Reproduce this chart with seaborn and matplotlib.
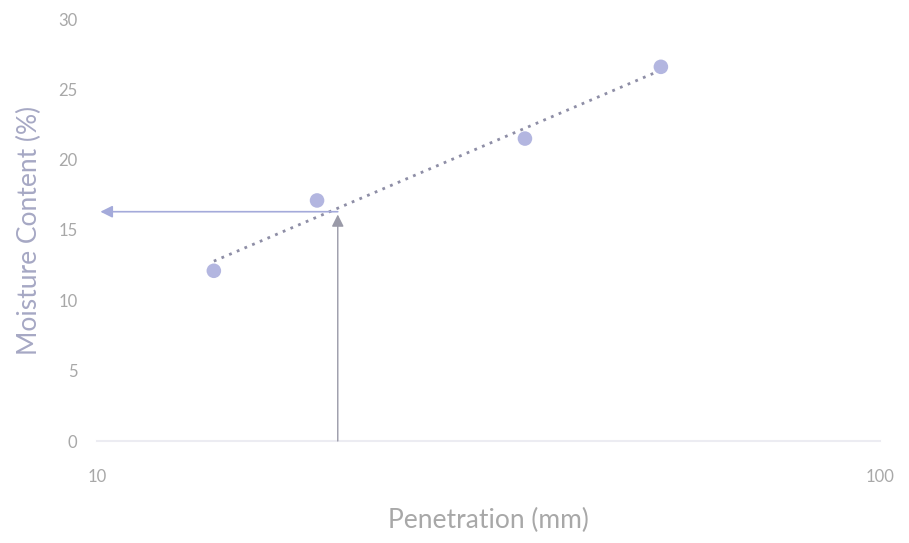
import numpy as np
import pandas as pd
import matplotlib
matplotlib.use("Agg")
import matplotlib.pyplot as plt
import seaborn as sns

# Cone penetration test: moisture content vs penetration
penetration = [14.1, 19.1, 35.2, 52.5]
moisture = [12.1, 17.1, 21.5, 26.6]
target_pen = 20.3
liquid_limit = 16.3

x_ticks = [10, 100]
y_ticks = [0, 5, 10, 15, 20, 25, 30]

df = pd.DataFrame({"Penetration (mm)": penetration, "Moisture Content (%)": moisture})

sns.set_theme(style="white")
plt.rcParams["font.family"] = ["Lato", "DejaVu Sans"]

text_col = "#a8a8a8"
point_col = "#b3b6e0"
trend_col = "#8e8ea6"
arrow_col = "#a4aada"

fig, ax = plt.subplots(figsize=(9.09, 5.43), dpi=100)
fig.subplots_adjust(left=97 / 909, right=880 / 909, bottom=1 - 441 / 543, top=1 - 19 / 543)

sns.regplot(data=df, x="Penetration (mm)", y="Moisture Content (%)", logx=True, ci=None, ax=ax,
            scatter_kws={"s": 110, "color": point_col, "alpha": 1, "edgecolor": "none", "zorder": 3},
            line_kws={"color": trend_col, "ls": (0, (1, 2)), "lw": 2})

ax.set_xscale("log")
ax.set_xlim(10, 100)
ax.set_ylim(0, 30)

# arrows: from penetration ~20 mm up to trend line, then across to moisture axis
ax.annotate("", xy=(target_pen, liquid_limit - 0.2), xytext=(target_pen, 0),
            arrowprops=dict(arrowstyle="-|>", color="#9a9aa8", lw=1, mutation_scale=18,
                            shrinkA=0, shrinkB=0, facecolor=arrow_col))
ax.annotate("", xy=(10.1, liquid_limit), xytext=(target_pen, liquid_limit),
            arrowprops=dict(arrowstyle="-|>", color=arrow_col, lw=1.2, mutation_scale=18,
                            shrinkA=0, shrinkB=0))

ax.set_xticks(x_ticks)
ax.set_xticklabels([str(t) for t in x_ticks])
ax.xaxis.set_minor_locator(matplotlib.ticker.NullLocator())
ax.set_yticks(y_ticks)
ax.tick_params(axis="x", length=0, pad=20, labelsize=12, labelcolor=text_col)
ax.tick_params(axis="y", length=0, pad=14, labelsize=12, labelcolor=text_col)

ax.set_xlabel("Penetration (mm)", fontsize=19, color=text_col, labelpad=17)
ax.set_ylabel("Moisture Content (%)", fontsize=19, color="#a6a8c4", labelpad=12)

for s in ["top", "right", "left"]:
    ax.spines[s].set_visible(False)
ax.spines["bottom"].set_color("#ececf2")
ax.spines["bottom"].set_linewidth(1.5)

fig.savefig("out.png", dpi=100)
